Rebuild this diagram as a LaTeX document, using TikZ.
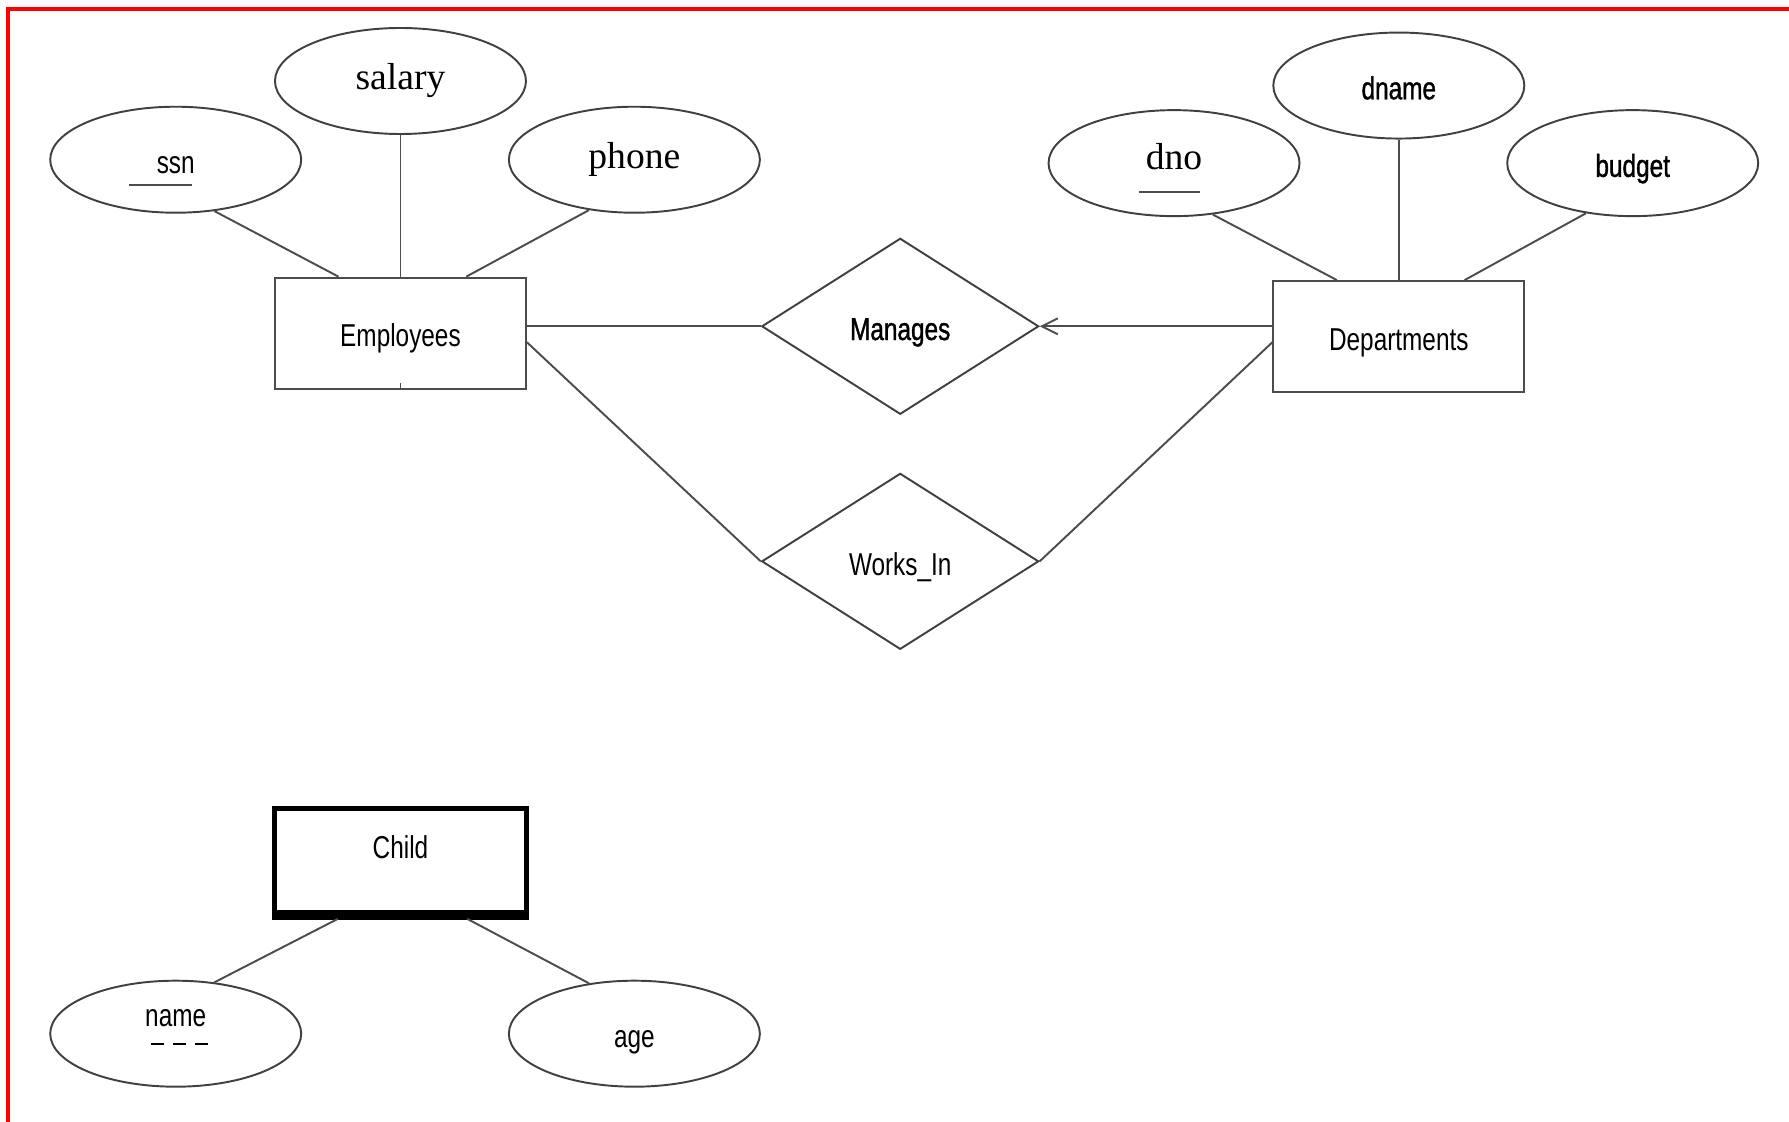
\documentclass[tikz,border=0pt]{standalone}
\usepackage{fontspec}
\newfontfamily\narrowsf[FakeStretch=0.77]{Liberation Sans}
\newfontfamily\narrowbf[FakeStretch=0.77,FakeBold=1.2]{Liberation Sans}
\newfontfamily\attrrm{Liberation Serif}
\usetikzlibrary{shapes.geometric,arrows.meta,calc}

\begin{document}
\begin{tikzpicture}[x=0.1141mm,y=-0.1141mm,
  every node/.style={font=\narrowsf\fontsize{9}{11}\selectfont,text height=7.8pt,text depth=0pt},
  attr/.style={draw=black!75,line width=0.55pt,ellipse,minimum width=25.1mm,minimum height=10.6mm,inner sep=0pt},
  entity/.style={draw=black!70,line width=0.55pt,rectangle,minimum width=25.1mm,minimum height=11.1mm,inner sep=0pt},
  weak/.style={draw=black,line width=1.3pt,rectangle,minimum width=25.2mm,minimum height=10.8mm,inner sep=0pt},
  rel/.style={draw=black!75,line width=0.55pt,diamond,minimum width=27.7mm,minimum height=17.6mm,inner sep=0pt},
  link/.style={black!70,line width=0.55pt},
  serif/.style={font=\attrrm\fontsize{10.7}{13}\selectfont,text height=7.4pt,text depth=2.3pt},
  heavy/.style={font=\narrowbf\fontsize{9}{11}\selectfont}]
\useasboundingbox (0,0) rectangle (1568,983);
\draw[red,line width=1.2pt] (1568,8) -- (7,8) -- (7,983);

\node[attr,serif] (salary) at (351,71) {salary};
\node[attr] (ssn) at (154,140) {ssn};
\node[attr,serif] (phone) at (556,140) {phone};
\node[entity] (emp) at (351,292) {Employees};
\node[rel,heavy] (man) at (789,286) {Manages};
\node[rel] (works) at (789,492) {Works\_In};
\node[entity] (dept) at (1226,295) {Departments};
\node[attr,serif,text depth=4pt] (dno) at (1029,143) {dno};
\node[attr,heavy] (dname) at (1226,75) {dname};
\node[attr,heavy] (budget) at (1431,143) {budget};
\node[weak,text depth=10pt] (child) at (351,756) {Child};
\node[attr,text depth=12pt] (name) at (154,906) {name};
\node[attr] (age) at (556,906) {age};

\draw[link] ($(ssn.center)+(-41,22)$) -- ($(ssn.center)+(14,22)$);
\draw[link] ($(dno.center)+(-31,25)$) -- ($(dno.center)+(23,25)$);
\draw[black,line width=0.8pt,dash pattern=on 1.3mm off 0.9mm] ($(name.center)+(-22,9)$) -- ($(name.center)+(35,9)$);
\draw[black,line width=2.9pt] ($(child.south west)+(0,-3.5)$) -- ($(child.south east)+(0,-3.5)$);

\draw[link] (ssn.-53) -- ($(emp.north west)!0.255!(emp.north east)$);
\draw[link] (salary.south) -- (salary.south |- emp.north);
\draw[link] (phone.-132) -- ($(emp.north west)!0.76!(emp.north east)$);
\draw[link] (emp.south) -- ++(0,-6);
\draw[link] (man.west -| emp.east) -- (man.west);
\draw[link] ($(emp.east)+(0,8)$) -- (works.west);
\draw[link,-{Straight Barb[length=1.6mm,width=1.6mm]}] (man.east -| dept.west) -- (man.east);
\draw[link] ($(dept.west)+(0,5)$) -- (works.east);
\draw[link] (dno.-53) -- ($(dept.north west)!0.255!(dept.north east)$);
\draw[link] (dname.south) -- (dname.south |- dept.north);
\draw[link] (budget.-133) -- ($(dept.north west)!0.76!(dept.north east)$);
\draw[link] ($(child.south west)!0.256!(child.south east)$) -- (name.53);
\draw[link] ($(child.south west)!0.76!(child.south east)$) -- (age.132);
\end{tikzpicture}
\end{document}
